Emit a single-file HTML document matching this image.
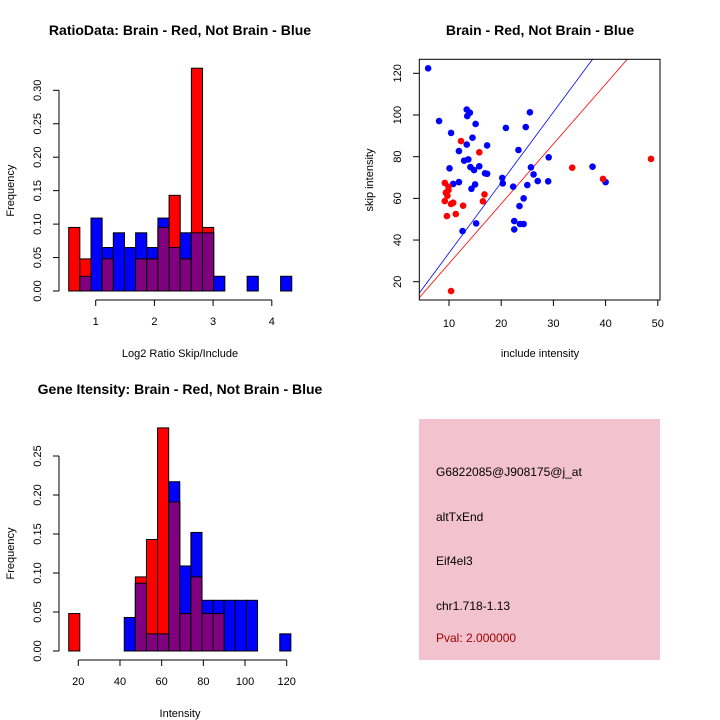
<!DOCTYPE html>
<html><head><meta charset="utf-8"><style>
body{margin:0;background:#fff;}
svg{display:block;font-family:"Liberation Sans",sans-serif;}
</style></head><body>
<svg id="c" width="720" height="720" viewBox="0 0 720 720">
<rect x="419" y="419" width="241" height="241" fill="#f2c2ce"/>
<g font-size="12">
<text x="436" y="476">G6822085@J908175@j_at</text>
<text x="436" y="521">altTxEnd</text>
<text x="436" y="565">Eif4el3</text>
<text x="436" y="610">chr1.718-1.13</text>
<text x="436" y="642" fill="#a00000">Pval: 2.000000</text>
</g>
</svg>
<script>
// ---- data ----
const ratioRed  = [0.095,0.048,0,0.048,0,0,0.048,0.048,0.095,0.143,0.048,0.333,0.095,0,0,0,0,0,0,0];
const ratioBlue = [0,0.022,0.109,0.065,0.087,0.065,0.087,0.065,0.109,0.065,0.087,0.087,0.087,0.022,0,0,0.022,0,0,0.022];
const ratioBreakStart = 0.54, ratioBinWidth = 0.19;
const ratioXTicks = [1,2,3,4];
const ratioYTicks = ["0.00","0.05","0.10","0.15","0.20","0.25","0.30"];
const intRed  = [0.048,0,0,0,0,0,0.095,0.143,0.286,0.191,0.048,0.095,0.048,0.048,0,0,0,0,0,0];
const intBlue = [0,0,0,0,0,0.043,0.087,0.022,0.022,0.217,0.109,0.152,0.065,0.065,0.065,0.065,0.065,0,0,0.022];
const intBreakStart = 15.4, intBinWidth = 5.33;
const intXTicks = [20,40,60,80,100,120];
const intYTicks = ["0.00","0.05","0.10","0.15","0.20","0.25"];
const blueX = [6.0,8.1,10.4,10.1,10.8,11.9,11.9,12.6,13.4,13.5,14.0,13.4,12.9,13.7,14.1,14.8,14.5,15.1,17.3,15.8,16.9,17.3,14.3,15.0,15.2,20.2,20.3,20.9,22.3,24.7,25.5,23.3,25.7,26.2,27.0,25.0,24.3,23.5,22.5,22.5,23.6,24.3,29.1,29.0,37.5,40.0];
const blueY = [122.4,97.1,91.4,74.4,66.9,67.8,82.7,44.3,102.6,99.5,101.1,85.8,78.1,78.7,75.0,73.6,89.1,95.7,85.4,75.4,72.0,71.8,64.6,66.7,48.0,69.8,67.2,93.8,65.6,94.2,101.3,83.2,74.9,71.5,68.3,66.4,60.0,56.3,49.1,45.1,47.7,47.7,79.7,68.2,75.2,67.8];
const redX = [9.2,9.4,9.9,9.7,9.2,9.6,10.4,10.8,11.3,12.7,12.3,15.8,16.8,16.5,10.4,33.6,39.5,48.7,9.9];
const redY = [67.4,62.7,64.0,61.3,58.7,51.5,57.3,57.9,52.5,56.5,87.5,82.1,61.9,58.6,15.5,74.7,69.3,78.9,65.6];
const scatXTicks = [10,20,30,40,50];
const scatYTicks = [20,40,60,80,100,120];
const blueSlope = 3.38, redSlope = 2.87;

const svg = document.getElementById('c');
const NS = 'http://www.w3.org/2000/svg';
function mk(tag, attrs, parent){ const e=document.createElementNS(NS,tag); for(const k in attrs) e.setAttribute(k,attrs[k]); (parent||svg).appendChild(e); return e; }
function txt(x,y,s,size,extra){ const t=mk('text',Object.assign({x:x,y:y,'font-size':size,'text-anchor':'middle'},extra||{})); t.textContent=s; return t; }

function hist(red, blue, start, bw, xs, yscale, y0, xticks, yticks, ytickStep, axisY, title, xlabel, titleY, xlabY, prefix){
  const g = mk('g',{});
  
  
  const X = v => xs.a + (v - xs.v0)*xs.k;
  const Y = v => y0 - v*yscale;
  for(let i=0;i<red.length;i++){
    const x0=X(start+i*bw), x1=X(start+(i+1)*bw);
    const r=red[i], b=blue[i], m=Math.min(r,b);
    if(b>0){ const e=mk('rect',{x:x0,y:Y(b),width:x1-x0,height:Y(0)-Y(b),fill:'#0000ff',stroke:'#000','stroke-width':1},g);
      
       }
    if(r>0){ const e=mk('rect',{x:x0,y:Y(r),width:x1-x0,height:Y(0)-Y(r),fill:'#ff0000',stroke:'#000','stroke-width':1},g);
      
       }
    if(m>0){ const e=mk('rect',{x:x0,y:Y(m),width:x1-x0,height:Y(0)-Y(m),fill:'#800080',stroke:'#000','stroke-width':1},g);
      
       }
  }
  // y axis
  const yTop = Y((yticks.length-1)*ytickStep);
  mk('line',{x1:59,y1:Y(0),x2:59,y2:yTop,stroke:'#000'},g);
  yticks.forEach((s,i)=>{ const y=Y(i*ytickStep); mk('line',{x1:53,y1:y,x2:59,y2:y,stroke:'#000'},g);
    const t=txt(41,y,s,11,{transform:'rotate(-90 41 '+y+')'}); g.appendChild(t); });
  // x axis
  mk('line',{x1:X(xticks[0]),y1:axisY,x2:X(xticks[xticks.length-1]),y2:axisY,stroke:'#000'},g);
  xticks.forEach(v=>{ const x=X(v); mk('line',{x1:x,y1:axisY,x2:x,y2:axisY+6,stroke:'#000'},g); g.appendChild(txt(x,axisY+25,String(v),11)); });
  const tt=txt(180,titleY,title,14,{'font-weight':'bold'});
  
  
  const xl=txt(180,xlabY,xlabel,11);
  
  
  const yl=txt(14,(Y(0)+yTop)/2,'Frequency',11,{transform:'rotate(-90 14 '+((Y(0)+yTop)/2)+')'});
  
  
}
hist(ratioRed, ratioBlue, ratioBreakStart, ratioBinWidth, {a:95.7,v0:1,k:58.7}, 669, 291, ratioXTicks, ratioYTicks, 0.05, 300,
  'RatioData: Brain - Red, Not Brain - Blue', 'Log2 Ratio Skip/Include', 35, 357, 'ratio');
hist(intRed, intBlue, intBreakStart, intBinWidth, {a:78.3,v0:20,k:2.084}, 780, 651, intXTicks, intYTicks, 0.05, 660,
  'Gene Itensity: Brain - Red, Not Brain - Blue', 'Intensity', 394, 717, 'intensity');

// scatter
const SX = v => 396.8 + v*5.22;
const SY = v => 323.4 - v*2.084;
const sg = mk('g',{});


const cp = mk('clipPath',{id:'sc'},sg); mk('rect',{x:419,y:59,width:241,height:241},cp);
const lb = mk('line',{x1:SX(0),y1:SY(0),x2:SX(60),y2:SY(60*blueSlope),stroke:'#0000ff','stroke-width':0.8,'clip-path':'url(#sc)'},sg);


const lr = mk('line',{x1:SX(0),y1:SY(0),x2:SX(60),y2:SY(60*redSlope),stroke:'#ff0000','stroke-width':0.8,'clip-path':'url(#sc)'},sg);


blueX.forEach((x,i)=>{ const c=mk('circle',{cx:SX(x),cy:SY(blueY[i]),r:3.3,fill:'#0000ff'},sg);
  
   });
redX.forEach((x,i)=>{ const c=mk('circle',{cx:SX(x),cy:SY(redY[i]),r:3.3,fill:'#ff0000'},sg);
  
   });
mk('rect',{x:419.3,y:59.3,width:240.7,height:240.7,fill:'none',stroke:'#000'},sg);
scatXTicks.forEach(v=>{ const x=SX(v); mk('line',{x1:x,y1:300,x2:x,y2:306,stroke:'#000'},sg); sg.appendChild(txt(x,327,String(v),11)); });
scatYTicks.forEach(v=>{ const y=SY(v); mk('line',{x1:413,y1:y,x2:419.3,y2:y,stroke:'#000'},sg); sg.appendChild(txt(401,y,String(v),11,{transform:'rotate(-90 401 '+y+')'})); });
const st=txt(540,35,'Brain - Red, Not Brain - Blue',14,{'font-weight':'bold'});


const sx=txt(540,357,'include intensity',11);


const sy=txt(373,180,'skip intensity',11,{transform:'rotate(-90 373 180)'});


</script>
</body></html>
